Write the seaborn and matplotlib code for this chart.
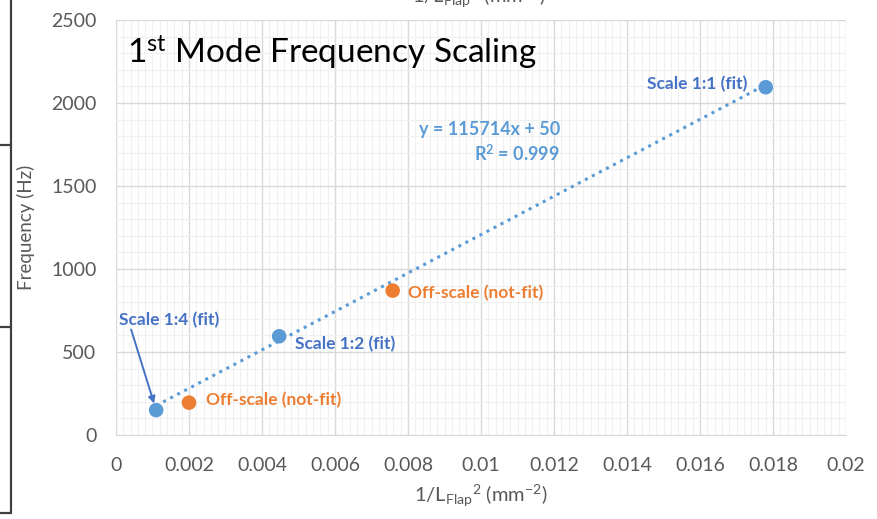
import numpy as np
import pandas as pd
import matplotlib
matplotlib.use("Agg")
import matplotlib.pyplot as plt
from matplotlib.lines import Line2D
from matplotlib.ticker import MultipleLocator
import seaborn as sns

# data
inv_len_sq = [0.0011, 0.0020, 0.00447, 0.00758, 0.0178]
frequency = [150, 195, 595, 870, 2095]
group = ["fit", "not-fit", "fit", "not-fit", "fit"]
labels = ["Scale 1:4 (fit)", "Off-scale (not-fit)", "Scale 1:2 (fit)",
          "Off-scale (not-fit)", "Scale 1:1 (fit)"]
fit_slope = 115714
fit_intercept = 50

df = pd.DataFrame({"x": inv_len_sq, "y": frequency, "group": group, "label": labels})

sns.set_style("white")
plt.rcParams["font.family"] = ["Lato", "DejaVu Sans"]
plt.rcParams["mathtext.fontset"] = "custom"
plt.rcParams["mathtext.rm"] = "Lato"
plt.rcParams["mathtext.it"] = "Lato:italic"
plt.rcParams["mathtext.bf"] = "Lato:bold"

blue = "#5B9BD5"
orange = "#ED7D31"
dark_blue = "#4472C4"
grey = "#595959"

fig = plt.figure(figsize=(8.78, 5.19), dpi=100)
ax = fig.add_axes([0.1321, 0.1618, 0.8315, 0.7997])

# grid
ax.set_xlim(0, 0.02)
ax.set_ylim(0, 2500)
ax.xaxis.set_major_locator(MultipleLocator(0.002))
ax.xaxis.set_minor_locator(MultipleLocator(0.0002))
ax.yaxis.set_major_locator(MultipleLocator(500))
ax.yaxis.set_minor_locator(MultipleLocator(100))
ax.grid(which="major", color="#D9D9D9", lw=1.0)
ax.grid(which="minor", color="#F0F0F0", lw=0.8)
ax.set_axisbelow(True)

# trend line over the fitted points
fit_x = df.loc[df.group == "fit", "x"]
tx = np.array([fit_x.min(), fit_x.max()])
ax.plot(tx, fit_slope * tx + fit_intercept, color=blue, lw=2.2, ls=(0, (1, 1.6)), zorder=2)

sns.scatterplot(data=df, x="x", y="y", hue="group",
                palette={"fit": blue, "not-fit": orange},
                s=110, edgecolor="none", legend=False, ax=ax, zorder=3)

# point labels
offsets = [(-27, 65), (12, 2), (11.5, -6), (11, -1.5), (-13, 2)]
aligns = ["left", "left", "left", "left", "right"]
for (_, r), off, ha in zip(df.iterrows(), offsets, aligns):
    col = orange if r.group == "not-fit" else dark_blue
    ax.annotate(r.label, (r.x, r.y), xytext=off, textcoords="offset points",
                ha=ha, va="center", fontsize=12.5, color=col, fontweight="bold")
# arrow for scale 1:4
ax.annotate("", (df.x[0], df.y[0]), xytext=(-18, 58), textcoords="offset points",
            arrowprops=dict(arrowstyle="-|>", color=dark_blue, lw=1.4,
                            shrinkA=0, shrinkB=5, mutation_scale=10))

# equation
ax.text(0.01216, 1764, "y = 115714x + 50\nR$^\\mathbf{2}$ = 0.999", ha="right", va="center",
        multialignment="right", fontsize=13, color=blue, fontweight="bold",
        linespacing=1.3)

# title
ax.text(0.0003, 2306, r"1$^{\mathrm{st}}$ Mode Frequency Scaling",
        fontsize=24, color="black", va="center", ha="left")

# axes styling
for s in ["top", "right", "left"]:
    ax.spines[s].set_visible(False)
ax.spines["bottom"].set_color("#D9D9D9")
ax.tick_params(axis="both", which="major", labelsize=14, colors=grey,
               length=6, color="#D0D0D0", direction="out")
ax.tick_params(axis="x", pad=10)
ax.tick_params(axis="y", pad=8)
ax.tick_params(which="minor", length=0)
ax.set_xticks(np.arange(0, 0.0201, 0.002))
ax.set_xticklabels(["0", "0.002", "0.004", "0.006", "0.008", "0.01", "0.012",
                    "0.014", "0.016", "0.018", "0.02"])
ax.set_yticks(np.arange(0, 2501, 500))
ax.set_xlabel("1/L$_{\\mathrm{Flap}}$$^2$ (mm$^{-2}$)", fontsize=14.5, color=grey, labelpad=6)
ax.set_ylabel("Frequency (Hz)", fontsize=13.5, color=grey)
ax.yaxis.set_label_coords(-0.111, 0.5)

# remnants of surrounding page
fig.text(0.545, 1.006, "1/L$_{\\mathrm{Flap}}$$^2$ (mm$^{-2}$)", fontsize=14.5,
         color=grey, ha="center", va="center")
lc = "#404040"
fig.add_artist(Line2D([0.0125, 0.0125], [0.0116, 1.0], transform=fig.transFigure, color=lc, lw=1.6))
for yy in [0.7206, 0.370, 0.0116]:
    fig.add_artist(Line2D([0, 0.0125], [yy, yy], transform=fig.transFigure, color=lc, lw=1.6))

fig.savefig("out.png", dpi=100)
